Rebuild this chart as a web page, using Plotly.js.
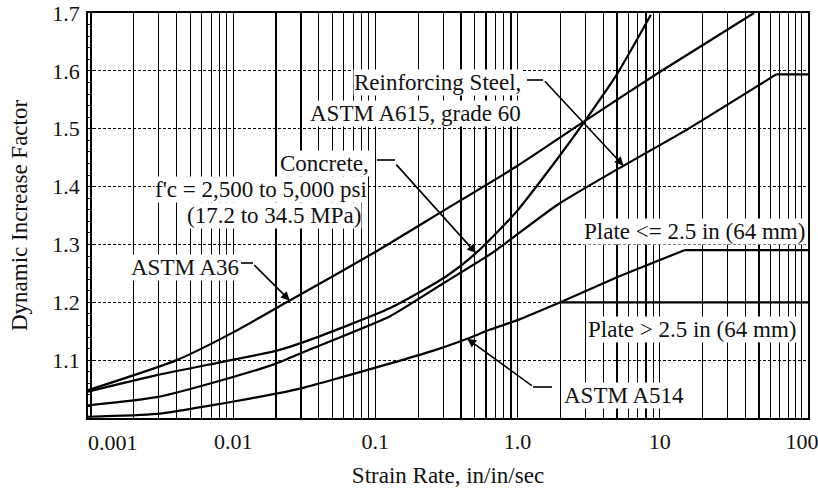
<!DOCTYPE html>
<html>
<head>
<meta charset="utf-8">
<script src="https://cdn.plot.ly/plotly-3.0.1.min.js"></script>
<style>html,body{margin:0;padding:0;background:#fff;}#chart{width:818px;height:496px;}</style>
</head>
<body>
<div id="chart"></div>
<script>
// ---- data ----
const a36X = [0.0009, 0.004, 0.01, 0.025, 0.1, 0.3, 1, 3, 10, 46];
const a36Y = [1.046, 1.100, 1.148, 1.203, 1.287, 1.358, 1.436, 1.514, 1.598, 1.700];

const concreteX = [0.0009, 0.0029, 0.0088, 0.02, 0.032, 0.127, 0.316, 0.51, 0.97, 1.92, 2.99, 4.97, 8.67];
const concreteY = [1.044, 1.074, 1.098, 1.116, 1.132, 1.190, 1.245, 1.285, 1.355, 1.449, 1.514, 1.593, 1.697];

const rebarX = [0.0009, 0.0029, 0.0088, 0.02, 0.032, 0.127, 0.297, 0.66, 1.92, 5.56, 14.7, 66, 150];
const rebarY = [1.021, 1.036, 1.067, 1.094, 1.115, 1.176, 1.232, 1.285, 1.369, 1.436, 1.495, 1.594, 1.594];

const a514X = [0.0009, 0.0029, 0.0088, 0.02, 0.032, 0.05, 0.253, 0.443, 0.63, 1.02, 2.0];
const a514Y = [1.002, 1.007, 1.026, 1.042, 1.053, 1.066, 1.116, 1.137, 1.152, 1.170, 1.200];

const plateThinX = [2.0, 5.2, 14.9, 150];   // Plate <= 2.5 in
const plateThinY = [1.200, 1.245, 1.290, 1.290];
const plateThickX = [2.0, 150];             // Plate > 2.5 in
const plateThickY = [1.200, 1.200];

const xDecades = [0.001, 0.01, 0.1, 1, 10, 100];
const xTickLabels = ['0.001', '0.01', '0.1', '1.0', '10', '100'];
const yTickVals = [1.1, 1.2, 1.3, 1.4, 1.5, 1.6, 1.7];
const yTickLabels = ['1.1', '1.2', '1.3', '1.4', '1.5', '1.6', '1.7'];

// ---- log grid positions (1..9 per decade) ----
const gridVals = [], gridText = [];
xDecades.forEach((d, i) => {
  if (i === xDecades.length - 1) { gridVals.push(d); gridText.push(xTickLabels[i]); return; }
  for (let k = 1; k <= 9; k++) {
    gridVals.push(d * k);
    gridText.push(k === 1 && i > 0 ? xTickLabels[i] : '');
  }
});

const FONT = '"Liberation Serif", "Times New Roman", serif';
const LW = 2.2;
function curve(x, y, shape, smooth) {
  const line = {color: '#000', width: LW, shape: shape || 'spline'};
  if (line.shape === 'spline') line.smoothing = smooth || 0.6;
  return {x: x, y: y, type: 'scatter', mode: 'lines', hoverinfo: 'skip', line: line};
}
const nR = rebarX.length, nP = plateThinX.length;
const traces = [
  curve(a36X, a36Y),
  curve(concreteX, concreteY),
  curve(rebarX.slice(0, nR - 1), rebarY.slice(0, nR - 1), 'spline', 0.5),
  curve(rebarX.slice(nR - 2), rebarY.slice(nR - 2), 'linear'),
  curve(a514X, a514Y),
  curve(plateThinX.slice(0, nP - 1), plateThinY.slice(0, nP - 1), 'spline', 0.3),
  curve(plateThinX.slice(nP - 2), plateThinY.slice(nP - 2), 'linear'),
  curve(plateThickX, plateThickY, 'linear')
];

// plot area in pixels: x 88..808, y 13..418
const L = 88, R = 808, T = 13, B = 418;
const px = v => (v - L) / (R - L);
const py = v => (B - v) / (B - T);
function label(text, x, y, xanchor) {
  return {text: text, xref: 'paper', yref: 'paper', x: px(x), y: py(y), xanchor: xanchor,
          yanchor: 'middle', showarrow: false, bgcolor: '#fff', borderpad: 0,
          font: {family: FONT, size: 23, color: '#111'}};
}
function arrow(xv, yv, ax, ay) {
  return {x: Math.log10(xv), y: yv, xref: 'x', yref: 'y', text: '', showarrow: true,
          ax: ax, ay: ay, arrowhead: 2, arrowsize: 1.1, arrowwidth: 1.6, arrowcolor: '#000', standoff: 0};
}
const annotations = [
  label('Reinforcing Steel,', 522, 82, 'right'),
  label('ASTM A615, grade 60', 522, 113, 'right'),
  label('Concrete,', 370, 163, 'right'),
  label("f'c = 2,500 to 5,000 psi", 368, 190, 'right'),
  label('(17.2 to 34.5 MPa)', 362, 215, 'right'),
  label('ASTM A36', 240, 267, 'right'),
  label('Plate &lt;= 2.5 in (64 mm)', 806, 231, 'right'),
  label('Plate &gt; 2.5 in (64 mm)', 797, 329, 'right'),
  label('ASTM A514', 563, 395, 'left'),
  {text: xTickLabels[0], xref: 'paper', yref: 'paper', x: px(113), y: py(442), xanchor: 'center',
   yanchor: 'middle', showarrow: false, font: {family: FONT, size: 22, color: '#111'}},
  arrow(rebarX[9], rebarY[9], -80, -86),
  arrow(concreteX[7], concreteY[7], -81, -90),
  arrow(a36X[3], a36Y[3], -37, -37),
  arrow(a514X[7], a514Y[7], 66, 48)
];
function stub(x0, x1, y) {
  return {type: 'line', xref: 'paper', yref: 'paper', x0: px(x0), x1: px(x1), y0: py(y), y1: py(y),
          line: {color: '#000', width: 1.6}};
}
const shapes = [stub(527, 543, 80), stub(377, 395, 160), stub(241, 253, 263), stub(533, 552, 387)];

const layout = {
  width: 818, height: 496,
  margin: {l: L, r: 818 - R, t: T, b: 496 - B},
  paper_bgcolor: '#fff', plot_bgcolor: '#fff',
  showlegend: false,
  font: {family: FONT, color: '#111'},
  xaxis: {
    type: 'log', range: [-3.021, 2.043], tickmode: 'array', tickvals: gridVals, ticktext: gridText,
    showgrid: true, gridcolor: '#000', gridwidth: 1.2, zeroline: false,
    showline: true, mirror: true, linecolor: '#000', linewidth: 1.8, ticks: '',
    tickfont: {family: FONT, size: 22, color: '#111'}, ticklabelstandoff: 3, ticklabeloverflow: 'allow',
    title: {text: 'Strain Rate, in/in/sec', font: {family: FONT, size: 23, color: '#111'}, standoff: 14}
  },
  yaxis: {
    range: [1.0, 1.7], tickmode: 'array', tickvals: yTickVals, ticktext: yTickLabels,
    showgrid: true, gridcolor: '#000', gridwidth: 1, griddash: '3px,2px', zeroline: false,
    showline: true, mirror: true, linecolor: '#000', linewidth: 1.8,
    ticks: 'inside', ticklen: 6, tickcolor: '#000', tickwidth: 1,
    minor: {tickmode: 'linear', tick0: 1, dtick: 0.02, ticks: 'inside', ticklen: 4, tickcolor: '#000', showgrid: false},
    tickfont: {family: FONT, size: 22, color: '#111'}, ticklabelstandoff: 2,
    title: {text: 'Dynamic Increase Factor', font: {family: FONT, size: 23, color: '#111'}, standoff: 18}
  },
  annotations: annotations,
  shapes: shapes
};
Plotly.newPlot('chart', traces, layout, {staticPlot: true, displayModeBar: false});
</script>
</body>
</html>
